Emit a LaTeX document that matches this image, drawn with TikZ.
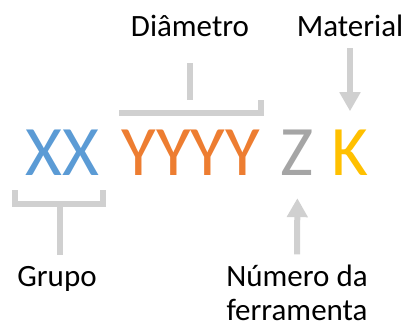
\documentclass[tikz,border=0pt]{standalone}
\usepackage{fontspec}
\setmainfont{Carlito}
\definecolor{cdblue}{HTML}{5B9BD5}
\definecolor{cdorange}{HTML}{ED7D31}
\definecolor{cdgray}{HTML}{A5A5A5}
\definecolor{cdyellow}{HTML}{FFC000}
\definecolor{cdline}{HTML}{D0D0D0}
\usetikzlibrary{arrows.meta,positioning,calc}

\begin{document}
\begin{tikzpicture}[x=1pt, y=-1pt,
    code/.style={inner sep=0pt, anchor=base, font=\fontsize{71}{84}\selectfont},
    lbl/.style={inner sep=0pt, anchor=base, align=center, font=\fontsize{31}{34}\selectfont},
    brk/.style={draw=cdline, line width=6pt},
    arr/.style={brk, -{Triangle[length=19pt, width=20pt]}}]
  \useasboundingbox (0,0) rectangle (410,327);
  % code letters
  \node[code, text=cdblue] (grp) at (62.5,175) {XX};
  \node[code, text=cdorange] (dia) at (191,175) {YYYY};
  \node[code, text=cdgray] (num) at (297.5,175) {Z};
  \node[code, text=cdyellow] (mat) at (350,175) {K};
  % labels
  \node[lbl] (diamlbl) at (190,36) {Diâmetro};
  \node[lbl] (matlbl) at (350,36) {Material};
  \node[lbl] (grplbl) at (57,286) {Grupo};
  \node[lbl] (numlbl) at (297,320) {Número da\\ferramenta};
  % brackets
  \coordinate (dbl) at (119,113);
  \coordinate (dbr) at (261,113);
  \coordinate (dbm) at (190,100);
  \draw[brk] (dbl) |- (dbr) -- (dbr |- dbm);
  \draw[brk] (diamlbl.south -| dbm) ++(0,27) -- (dbm);
  \coordinate (gbl) at (15,190);
  \coordinate (gbr) at (103,190);
  \coordinate (gbm) at (59.5,204);
  \draw[brk] (gbl) |- (gbm) -| (gbr);
  \draw[brk, shorten >=11pt] (gbm) -- (gbm |- grplbl.north);
  % arrows
  \draw[arr, shorten <=12pt, shorten >=18pt] (matlbl.south) -- (mat.north);
  \draw[arr, shorten <=10pt, shorten >=23pt] (numlbl.north) -- (num.south);
\end{tikzpicture}
\end{document}
